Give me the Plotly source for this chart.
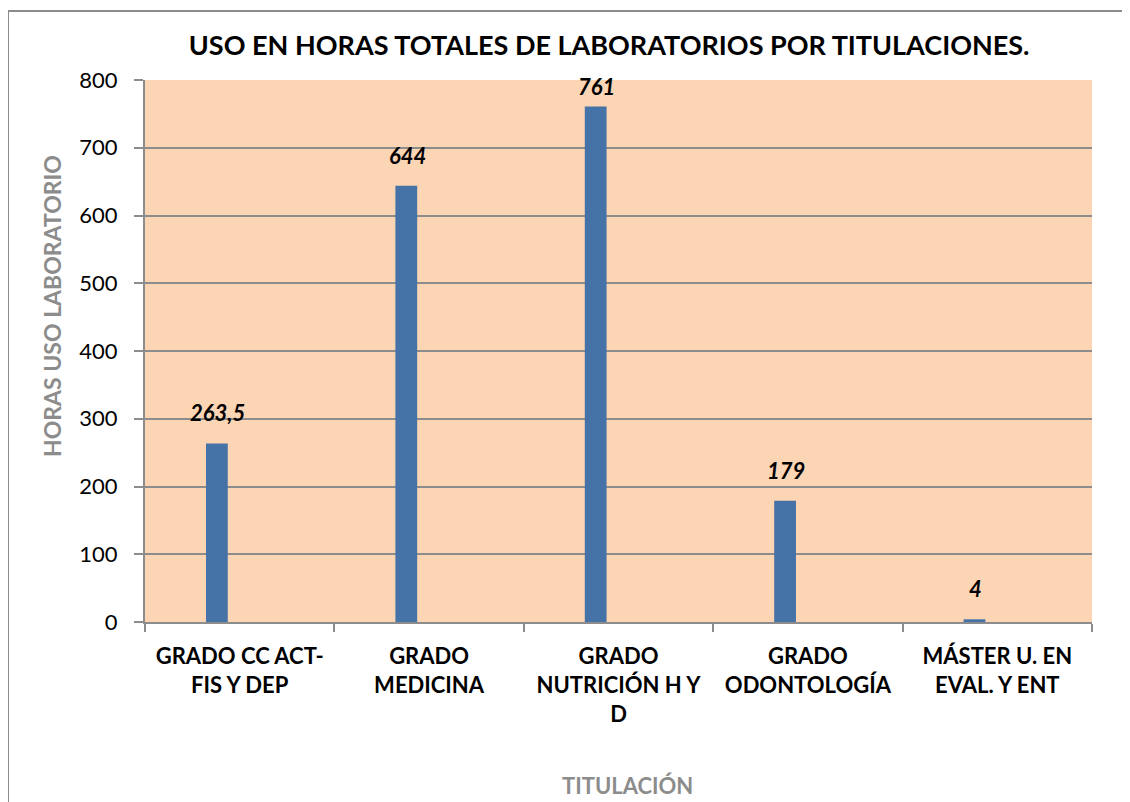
import plotly.graph_objects as go

categorias = [
    "GRADO CC ACT-<br>FIS Y DEP",
    "GRADO<br>MEDICINA",
    "GRADO<br>NUTRICIÓN H Y<br>D",
    "GRADO<br>ODONTOLOGÍA",
    "MÁSTER U. EN<br>EVAL. Y ENT",
]
horas = [263.5, 644, 761, 179, 4]
etiquetas = ["263,5", "644", "761", "179", "4"]
ticks_y = [0, 100, 200, 300, 400, 500, 600, 700, 800]

FONT = "Lato"
GRIS = "#8c8c8c"

# page pixel geometry (the html body adds an 8px margin)
PL, PR, PT, PB = 145, 1092, 80, 622
PW, PH = PR - PL, PB - PT


def px_x(x):
    return (x - PL) / PW


def px_y(y):
    return (PB - y) / PH


fig = go.Figure()
fig.add_trace(
    go.Bar(
        x=categorias,
        y=horas,
        width=0.115,
        offset=-0.178,
        marker=dict(color="#4572a7", line=dict(width=0)),
        hoverinfo="x+y",
    )
)

# data labels above each bar; labels near the top are kept inside the plot
for cat, val, txt in zip(categorias, horas, etiquetas):
    room = (800 - val) / 800 * PH
    fig.add_annotation(
        x=cat, y=val, xref="x", yref="y",
        text="<b><i>" + txt + "</i></b>",
        showarrow=False, yanchor="bottom",
        xshift=-22, yshift=min(15, room - 22),
        font=dict(family=FONT, size=22, color="black"),
    )

fig.add_annotation(
    x=px_x(52), y=px_y(306), xref="paper", yref="paper",
    xanchor="center", yanchor="middle",
    text="<b>HORAS USO LABORATORIO</b>", textangle=-90,
    showarrow=False, font=dict(family=FONT, size=23, color=GRIS),
)
fig.add_annotation(
    x=px_x(627), y=px_y(785), xref="paper", yref="paper",
    xanchor="center", yanchor="middle",
    text="<b>TITULACIÓN</b>",
    showarrow=False, font=dict(family=FONT, size=22, color=GRIS),
)

fig.update_layout(
    width=1130,
    height=802,
    margin=dict(l=PL - 8, r=1130 - PR + 8, t=PT - 8, b=802 - PB + 8),
    paper_bgcolor="white",
    plot_bgcolor="#fcd5b4",
    showlegend=False,
    title=dict(
        text="<b>USO EN HORAS TOTALES DE LABORATORIOS POR TITULACIONES.</b>",
        x=0.532, xanchor="center", y=1 - 38 / 802, yanchor="middle",
        font=dict(family=FONT, size=27, color="black"),
    ),
    xaxis=dict(
        tickfont=dict(family=FONT, size=22, color="black"),
        tickprefix="<b>", ticksuffix="</b>",
        ticks="outside", tickson="boundaries", ticklen=8, tickcolor=GRIS, tickwidth=2,
        ticklabelstandoff=14,
        showline=True, linecolor=GRIS, linewidth=2,
        showgrid=False,
        tickangle=0,
    ),
    yaxis=dict(
        range=[0, 800],
        tickvals=ticks_y,
        tickfont=dict(family=FONT, size=22, color="black"),
        ticks="outside", ticklen=9, tickcolor=GRIS, tickwidth=2,
        ticklabelstandoff=12,
        showline=True, linecolor=GRIS, linewidth=2,
        showgrid=True, gridcolor=GRIS, gridwidth=2,
        zeroline=False,
    ),
    shapes=[
        dict(type="line", xref="paper", yref="paper", x0=px_x(8), x1=1.2, y0=px_y(11), y1=px_y(11),
             line=dict(color=GRIS, width=2)),
        dict(type="line", xref="paper", yref="paper", x0=px_x(8), x1=px_x(8), y0=-0.5, y1=px_y(11),
             line=dict(color=GRIS, width=2)),
    ],
)

fig.write_html("out.html")
